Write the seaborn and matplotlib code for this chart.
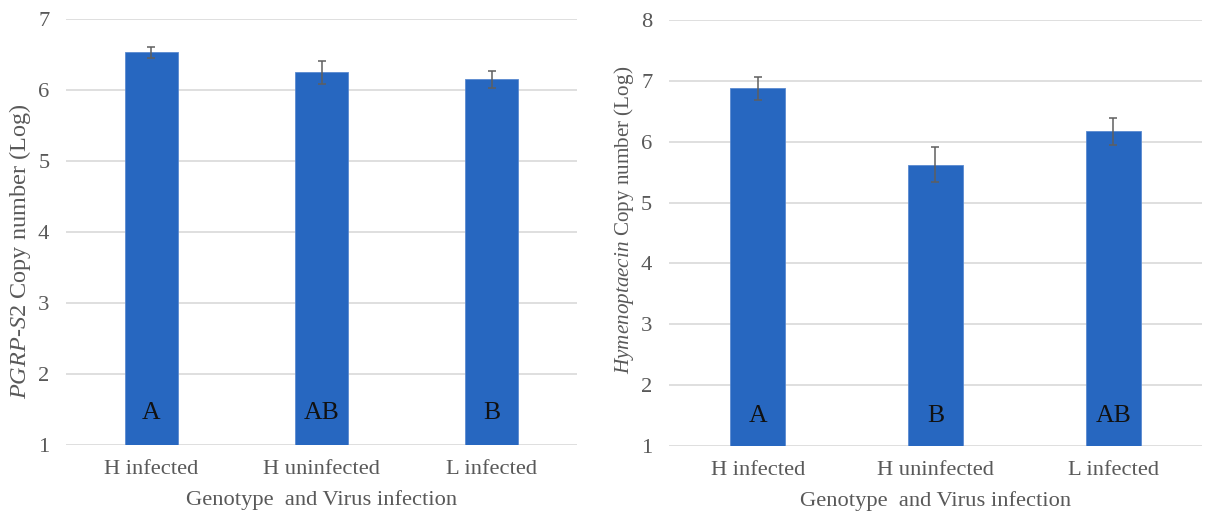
import matplotlib
matplotlib.use("Agg")
import matplotlib.pyplot as plt
import seaborn as sns
import pandas as pd

sns.set_theme(style="white")
plt.rcParams['font.family'] = ['Liberation Serif', 'DejaVu Serif']
plt.rcParams['mathtext.fontset'] = 'custom'
plt.rcParams['mathtext.rm'] = 'Liberation Serif'
plt.rcParams['mathtext.it'] = 'Liberation Serif:italic'

groups = ["H infected", "H uninfected", "L infected"]

pgrp_mean = [6.53, 6.25, 6.15]
pgrp_err = [0.08, 0.16, 0.12]
pgrp_letters = ["A", "AB", "B"]

hym_mean = [6.88, 5.62, 6.17]
hym_err = [0.19, 0.29, 0.22]
hym_letters = ["A", "B", "AB"]

bar_color = "#2767C0"
grey = "#595959"

fig = plt.figure(figsize=(12.11, 5.13), dpi=100)
ax1 = fig.add_axes([0.0545, 0.1326, 0.422, 0.8304])
ax2 = fig.add_axes([0.5524, 0.1306, 0.4402, 0.8304])


def draw(ax, means, errs, letters, ymax, ylabel, ysize, ycoords, letter_y):
    df = pd.DataFrame({"group": groups, "value": means})
    sns.barplot(data=df, x="group", y="value", color=bar_color, width=0.31,
                saturation=1, edgecolor="#5a8ad0", linewidth=0.6, ax=ax, zorder=2)
    ax.errorbar(range(len(groups)), means, yerr=errs, fmt="none",
                ecolor="#5f5f5f", elinewidth=1.1, capsize=3, capthick=1.1, zorder=3)
    for i, t in enumerate(letters):
        ax.text(i, letter_y, t, ha="center", va="center", fontsize=18.5, color="#111111")
    ax.set_ylim(1, ymax)
    ax.set_xlim(-0.5, 2.5)
    ax.set_yticks(range(1, ymax + 1))
    ax.yaxis.grid(True, color="#d9d9d9", linewidth=1.2, zorder=0)
    ax.set_axisbelow(True)
    for s in ax.spines.values():
        s.set_visible(False)
    ax.tick_params(axis="both", length=0, labelsize=16.2, labelcolor=grey)
    ax.tick_params(axis="x", pad=11)
    ax.tick_params(axis="y", pad=12)
    ax.set_xlabel("Genotype  and Virus infection", fontsize=16.2, color=grey, labelpad=8)
    ax.set_ylabel(ylabel, fontsize=ysize, color=grey)
    ax.yaxis.set_label_coords(*ycoords)


draw(ax1, pgrp_mean, pgrp_err, pgrp_letters, 7,
     r"$\mathit{PGRP}$-$\mathit{S2}$ Copy number (Log)", 17.5, (-0.064, 0.455), 1.45)
draw(ax2, hym_mean, hym_err, hym_letters, 8,
     r"$\mathit{Hymenoptaecin}$ Copy number (Log)", 15.2, (-0.061, 0.53), 1.5)

fig.savefig("out.png", dpi=100)
